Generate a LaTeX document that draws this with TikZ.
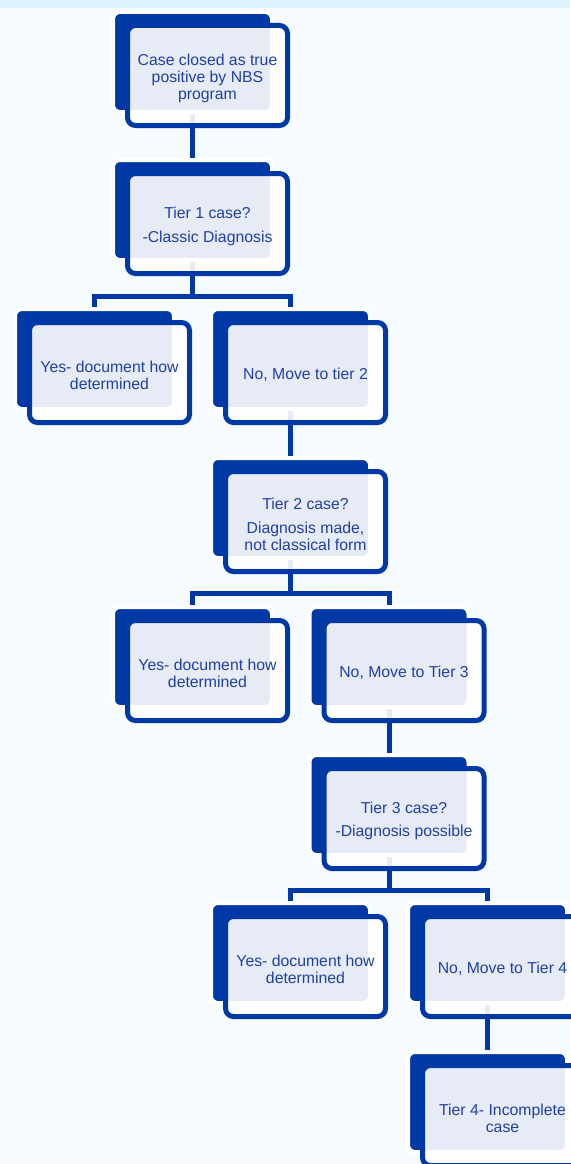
\documentclass[tikz,border=0pt]{standalone}
\usepackage{fontspec}
\setmainfont{Liberation Sans}
\pgfdeclarelayer{bg}
\pgfdeclarelayer{lines}
\pgfsetlayers{bg,lines,main}
\definecolor{nbsblue}{RGB}{0,57,166}
\definecolor{txtblue}{RGB}{32,64,168}
\definecolor{pagebg}{RGB}{245,251,254}
\definecolor{bandbg}{RGB}{219,243,253}
\newcommand\flowbox[4]{%
  \node[backbox] (#1-b) at (#2-2,#3-2) {};
  \node[frontbox] (#1) at (#2+94.5,#3+63.5) {};
  \node[boxtext] (#1-t) at ([yshift=-2.5pt]#1.center) {#4};
}
\begin{document}
\begin{tikzpicture}[x=1pt,y=-1pt,
  backbox/.style={rectangle, rounded corners=7pt, fill=nbsblue, draw=white,
    line width=4pt, minimum width=159pt, minimum height=100pt,
    anchor=north west, inner sep=0pt},
  frontbox/.style={rectangle, rounded corners=8pt, draw=nbsblue, line width=5pt,
    fill=white, fill opacity=0.9, minimum width=160pt,
    minimum height=100pt, inner sep=0pt},
  boxtext/.style={align=center, text=txtblue, inner sep=0pt,
    font=\fontsize{15.8}{17}\selectfont},
  conn/.style={draw=nbsblue, line width=5pt}]
\useasboundingbox (0,0) rectangle (570,1164);
\begin{pgfonlayer}{bg}
  \fill[pagebg] (0,0) rectangle (570,1164);
  \fill[bandbg] (0,0) rectangle (570,8);
\end{pgfonlayer}

\flowbox{n1}{113}{12}{Case closed as true\\positive by NBS\\program}
\flowbox{n2}{113}{160}{Tier 1 case?\\[7pt]-Classic Diagnosis}
\flowbox{n3}{15}{309}{Yes- document how\\determined}
\flowbox{n4}{211}{309}{No, Move to tier 2}
\flowbox{n5}{211}{458}{Tier 2 case?\\[7pt]Diagnosis made,\\not classical form}
\flowbox{n6}{113}{607}{Yes- document how\\determined}
\flowbox{n7}{309.5}{607}{No, Move to Tier 3}
\flowbox{n8}{309.5}{755}{Tier 3 case?\\[6pt]-Diagnosis possible}
\flowbox{n9}{211}{903}{Yes- document how\\determined}
\flowbox{n10}{408}{903}{No, Move to Tier 4}
\flowbox{n11}{408}{1052}{Tier 4- Incomplete\\case}

\begin{pgfonlayer}{lines}
  \draw[conn] (n1-b.south) -- (n2-b.north);
  \draw[conn] (n2-b.south) -- ++(0,34) -| (n3-b.north);
  \draw[conn] (n2-b.south) -- ++(0,34) -| (n4-b.north);
  \draw[conn] (n4-b.south) -- (n5-b.north);
  \draw[conn] (n5-b.south) -- ++(0,33) -| (n6-b.north);
  \draw[conn] (n5-b.south) -- ++(0,33) -| (n7-b.north);
  \draw[conn] (n7-b.south) -- (n8-b.north);
  \draw[conn] (n8-b.south) -- ++(0,33) -| (n9-b.north);
  \draw[conn] (n8-b.south) -- ++(0,33) -| (n10-b.north);
  \draw[conn] (n10-b.south) -- (n11-b.north);
\end{pgfonlayer}
\end{tikzpicture}
\end{document}
